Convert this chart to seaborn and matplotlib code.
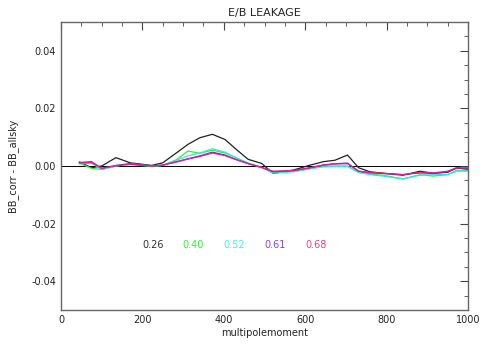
import pandas as pd
import seaborn as sns
import matplotlib
matplotlib.use("Agg")
import matplotlib.pyplot as plt
from matplotlib.ticker import MultipleLocator

# multipole grid and leakage curves
ell = [45, 75, 100, 135, 170, 223, 250, 284, 312, 341, 372, 403, 431, 460, 493,
       521, 571, 612, 645, 673, 704, 731, 759, 791, 840, 882, 914, 950, 972, 1000]

bb_026 = [0.0014, -0.0006, 0.0000, 0.0029, 0.0011, 0.0002, 0.0011, 0.0046, 0.0075, 0.0098,
          0.0110, 0.0092, 0.0057, 0.0023, 0.0009, -0.0026, -0.0014, 0.0003, 0.0015, 0.0020,
          0.0038, -0.0006, -0.0020, -0.0025, -0.0032, -0.0018, -0.0025, -0.0022, -0.0006, -0.0012]
bb_040 = [0.0010, -0.0008, -0.0012, 0.0000, 0.0006, -0.0002, 0.0002, 0.0022, 0.0052, 0.0044,
          0.0055, 0.0045, 0.0028, 0.0010, -0.0005, -0.0022, -0.0018, -0.0008, 0.0000, 0.0000,
          0.0000, -0.0022, -0.0028, -0.0032, -0.0045, -0.0030, -0.0035, -0.0030, -0.0015, -0.0015]
bb_052 = [0.0008, 0.0010, -0.0012, 0.0000, 0.0008, 0.0000, 0.0002, 0.0020, 0.0035, 0.0045,
          0.0060, 0.0048, 0.0028, 0.0010, -0.0005, -0.0025, -0.0020, -0.0010, -0.0003, -0.0002,
          -0.0002, -0.0022, -0.0030, -0.0035, -0.0045, -0.0032, -0.0030, -0.0030, -0.0018, -0.0018]
bb_061 = [0.0012, 0.0015, -0.0008, 0.0002, 0.0008, 0.0000, 0.0003, 0.0015, 0.0025, 0.0035,
          0.0048, 0.0038, 0.0022, 0.0008, -0.0005, -0.0020, -0.0016, -0.0006, 0.0004, 0.0008,
          0.0010, -0.0018, -0.0024, -0.0026, -0.0030, -0.0024, -0.0026, -0.0020, -0.0008, -0.0008]
bb_068 = [0.0010, 0.0012, -0.0008, 0.0001, 0.0006, 0.0000, 0.0003, 0.0014, 0.0024, 0.0033,
          0.0045, 0.0036, 0.0022, 0.0008, -0.0005, -0.0018, -0.0016, -0.0006, 0.0003, 0.0007,
          0.0008, -0.0018, -0.0022, -0.0025, -0.0030, -0.0022, -0.0024, -0.0018, -0.0006, -0.0006]

labels = ["0.26", "0.40", "0.52", "0.61", "0.68"]
line_colors = ["#202020", "#33ee33", "#33e6e6", "#7a22cc", "#e0208c"]
text_colors = ["#303030", "#33ee33", "#44eeee", "#8844dd", "#e04488"]
label_x = [226, 324, 425, 526, 627]

df = pd.concat([
    pd.DataFrame({"ell": ell, "diff": vals, "fsky": lab})
    for lab, vals in zip(labels, [bb_026, bb_040, bb_052, bb_061, bb_068])
])

sns.set_style("white")
plt.rcParams["font.family"] = ["DejaVu Sans"]

fig = plt.figure(figsize=(4.84, 3.48), dpi=100)
ax = fig.add_axes([0.126, 0.109, 0.841, 0.828])

sns.lineplot(data=df, x="ell", y="diff", hue="fsky", palette=line_colors,
             linewidth=0.9, legend=False, ax=ax)
ax.axhline(0, color="black", linewidth=0.7, zorder=0)

for lab, xc, c in zip(labels, label_x, text_colors):
    ax.text(xc, -0.0275, lab, color=c, fontsize=7, ha="center", va="center")

ax.set_xlim(0, 1000)
ax.set_ylim(-0.05, 0.05)
ax.xaxis.set_major_locator(MultipleLocator(200))
ax.xaxis.set_minor_locator(MultipleLocator(50))
ax.yaxis.set_major_locator(MultipleLocator(0.02))
ax.yaxis.set_minor_locator(MultipleLocator(0.005))
ax.tick_params(which="both", direction="in", top=True, right=True,
               labelsize=7, color="#444444", labelcolor="#222222")
ax.tick_params(which="major", length=6, width=0.8)
ax.tick_params(which="minor", length=3, width=0.6)
ax.yaxis.set_major_formatter(matplotlib.ticker.FormatStrFormatter("%.2f"))
for s in ax.spines.values():
    s.set_color("#666666")
    s.set_linewidth(1.0)

ax.set_title("E/B LEAKAGE", fontsize=8, color="#222222", pad=4)
ax.set_xlabel("multipolemoment", fontsize=7, color="#222222", labelpad=2)
ax.set_ylabel("BB_corr - BB_allsky", fontsize=7, color="#222222", labelpad=9)

fig.savefig("out.png", dpi=100)
